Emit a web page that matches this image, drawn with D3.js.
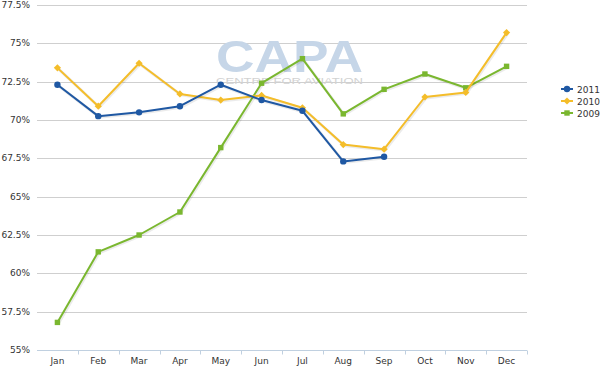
<!DOCTYPE html>
<html>
<head>
<meta charset="utf-8">
<script src="https://cdn.jsdelivr.net/npm/d3@7"></script>
<style>
  body { margin: 0; background: #fff; }
  svg { font-family: "DejaVu Sans", Verdana, sans-serif; }
  .axis text { fill: #333; font-size: 9px; }
</style>
</head>
<body>
<div id="chart"></div>
<script>
const months = ["Jan","Feb","Mar","Apr","May","Jun","Jul","Aug","Sep","Oct","Nov","Dec"];
const yTicks = [55, 57.5, 60, 62.5, 65, 67.5, 70, 72.5, 75, 77.5];
const s2011 = [72.3, 70.25, 70.5, 70.9, 72.3, 71.3, 70.6, 67.3, 67.6];
const s2010 = [73.4, 70.9, 73.7, 71.7, 71.3, 71.6, 70.8, 68.4, 68.1, 71.5, 71.8, 75.7];
const s2009 = [56.8, 61.4, 62.5, 64.0, 68.2, 72.4, 74.0, 70.4, 72.0, 73.0, 72.1, 73.5];

const series = [
  {name: "2011", values: s2011, color: "#1f58a3", marker: "circle"},
  {name: "2010", values: s2010, color: "#f4bd2a", marker: "diamond"},
  {name: "2009", values: s2009, color: "#7ab72f", marker: "square"}
];

const width = 600, height = 366;
const margin = {top: 5, right: 73, bottom: 16, left: 37};

const svg = d3.select("#chart").append("svg")
  .attr("width", width)
  .attr("height", height);

const x = d3.scaleBand()
  .domain(months)
  .range([margin.left, width - margin.right]);

const y = d3.scaleLinear()
  .domain([55, 77.5])
  .range([height - margin.bottom, margin.top]);

// grid lines
svg.append("g")
  .selectAll("line")
  .data(yTicks.slice(1))
  .join("line")
  .attr("x1", margin.left)
  .attr("x2", width - margin.right)
  .attr("y1", d => Math.round(y(d)) + 0.5)
  .attr("y2", d => Math.round(y(d)) + 0.5)
  .attr("stroke", "#cfcfcf")
  .attr("stroke-width", 1);

// y axis labels
svg.append("g")
  .attr("class", "axis")
  .selectAll("text")
  .data(yTicks)
  .join("text")
  .attr("x", margin.left - 7)
  .attr("y", d => y(d) + 3)
  .attr("text-anchor", "end")
  .text(d => d + "%");

// watermark
const wm = svg.append("g");
wm.append("text")
  .attr("x", 216).attr("y", 72)
  .attr("font-family", "Arial, 'Liberation Sans', sans-serif")
  .attr("font-weight", "bold")
  .attr("font-size", "44px")
  .attr("textLength", 147)
  .attr("lengthAdjust", "spacingAndGlyphs")
  .attr("fill", "#c6d6e8")
  .text("CAPA");
wm.append("text")
  .attr("x", 216).attr("y", 83.5)
  .attr("font-family", "Arial, 'Liberation Sans', sans-serif")
  .attr("font-size", "9.5px")
  .attr("textLength", 147)
  .attr("lengthAdjust", "spacingAndGlyphs")
  .attr("fill", "#d2d2d2")
  .text("CENTRE FOR AVIATION");

// x axis
const xAxis = svg.append("g")
  .attr("class", "axis")
  .attr("transform", `translate(0, ${Math.round(y(55)) + 0.5})`);
xAxis.append("line")
  .attr("x1", margin.left).attr("x2", width - margin.right)
  .attr("stroke", "#c0d0e0");
xAxis.selectAll("line.tick")
  .data(months.slice(1).concat(["end"]))
  .join("line")
  .attr("class", "tick")
  .attr("x1", d => Math.round(d === "end" ? x.range()[1] : x(d)) + 0.5)
  .attr("x2", d => Math.round(d === "end" ? x.range()[1] : x(d)) + 0.5)
  .attr("y1", 0).attr("y2", 4)
  .attr("stroke", "#c0d0e0");
xAxis.selectAll("text")
  .data(months)
  .join("text")
  .attr("x", d => x(d) + x.bandwidth() / 2)
  .attr("y", 13)
  .attr("text-anchor", "middle")
  .text(d => d);

const cx = (d, i) => x(months[i]) + x.bandwidth() / 2;
const line = d3.line().x((d, i) => cx(d, i)).y(d => y(d));

function drawMarker(g, type, color, px, py) {
  if (type === "circle") {
    g.append("circle").attr("cx", px).attr("cy", py).attr("r", 3.2).attr("fill", color);
  } else if (type === "square") {
    g.append("rect").attr("x", px - 2.7).attr("y", py - 2.7)
      .attr("width", 5.4).attr("height", 5.4).attr("fill", color);
  } else {
    g.append("path")
      .attr("d", `M${px},${py - 3.6}L${px + 3.6},${py}L${px},${py + 3.6}L${px - 3.6},${py}Z`)
      .attr("fill", color);
  }
}

// draw series, 2009 first so 2011 is on top
series.slice().reverse().forEach(s => {
  const g = svg.append("g");
  g.append("path")
    .datum(s.values)
    .attr("d", line)
    .attr("fill", "none")
    .attr("stroke", "#000")
    .attr("stroke-opacity", 0.08)
    .attr("stroke-width", 3)
    .attr("transform", "translate(1,1)");
  g.append("path")
    .datum(s.values)
    .attr("d", line)
    .attr("fill", "none")
    .attr("stroke", s.color)
    .attr("stroke-width", 2)
    .attr("stroke-linejoin", "round");
  s.values.forEach((v, i) => drawMarker(g, s.marker, s.color, cx(v, i), y(v)));
});

// legend
const legend = svg.append("g").attr("class", "axis");
series.forEach((s, i) => {
  const ly = 89 + i * 12;
  legend.append("line")
    .attr("x1", 561).attr("x2", 573)
    .attr("y1", ly).attr("y2", ly)
    .attr("stroke", s.color).attr("stroke-width", 2);
  drawMarker(legend, s.marker, s.color, 567, ly);
  legend.append("text")
    .attr("x", 577).attr("y", ly + 3.5)
    .attr("font-size", "10px")
    .text(s.name);
});
</script>
</body>
</html>
